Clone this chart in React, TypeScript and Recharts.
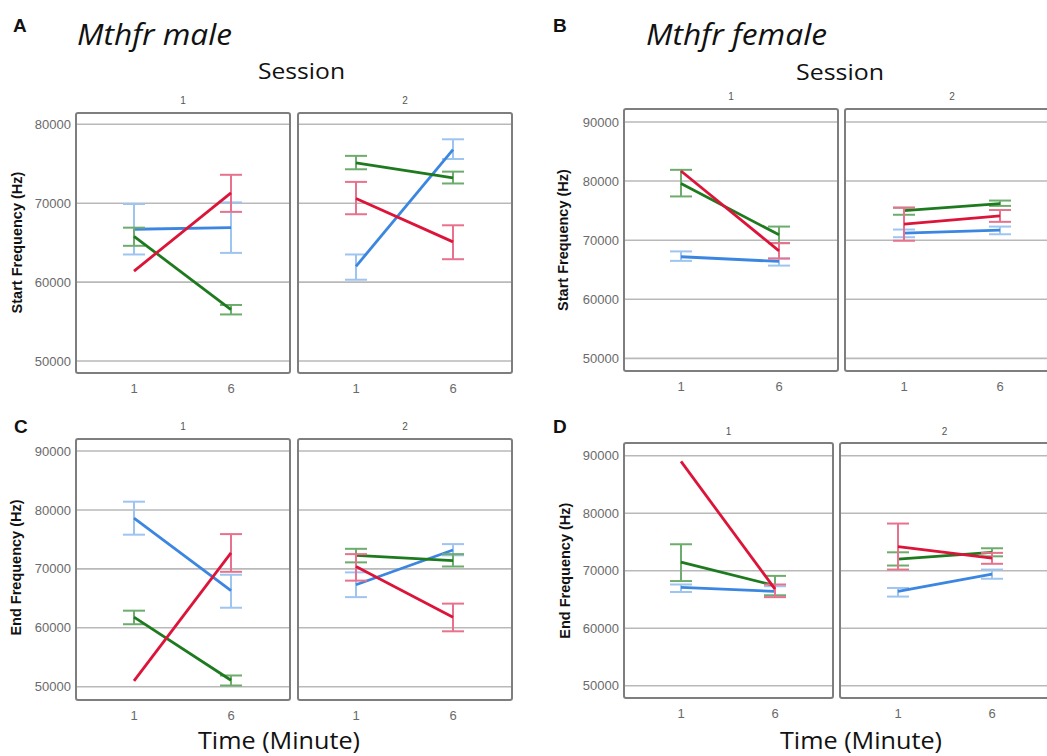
import React from "react";
import { LineChart, Line, XAxis, YAxis, CartesianGrid, ErrorBar } from "recharts";

// ---------- data ----------
const timeLabels = ["1", "6"];
const seriesNames = ["blue", "red", "green"];

// Panel A: Mthfr male, Start Frequency (Hz)   rows: blue, red, green
const maleStartS1Mean = [[66700, 66900], [61400, 71300], [65800, 56500]];
const maleStartS1Low = [[63500, 63700], [null, 68900], [64600, 55900]];
const maleStartS1High = [[69900, 70100], [null, 73600], [66900, 57100]];
const maleStartS2Mean = [[62000, 76800], [70600, 65100], [75100, 73200]];
const maleStartS2Low = [[60300, 75600], [68600, 62900], [74300, 72500]];
const maleStartS2High = [[63500, 78100], [72700, 67200], [76000, 74000]];

// Panel B: Mthfr female, Start Frequency (Hz)
const femaleStartS1Mean = [[67200, 66400], [81700, 68200], [79600, 70900]];
const femaleStartS1Low = [[66500, 65700], [null, 66900], [77400, 69500]];
const femaleStartS1High = [[68100, 66900], [null, 69500], [81900, 72300]];
const femaleStartS2Mean = [[71200, 71700], [72700, 74100], [75000, 76200]];
const femaleStartS2Low = [[70500, 71000], [69900, 73100], [74300, 75800]];
const femaleStartS2High = [[71800, 72300], [75500, 75100], [75500, 76700]];

// Panel C: Mthfr male, End Frequency (Hz)
const maleEndS1Mean = [[78600, 66300], [51000, 72700], [61800, 51100]];
const maleEndS1Low = [[75800, 63400], [null, 69500], [60600, 50200]];
const maleEndS1High = [[81400, 69000], [null, 75900], [62900, 51900]];
const maleEndS2Mean = [[67300, 73200], [70400, 61800], [72300, 71400]];
const maleEndS2Low = [[65200, 72300], [68000, 59400], [71100, 70400]];
const maleEndS2High = [[69400, 74200], [72500, 64100], [73400, 72500]];

// Panel D: Mthfr female, End Frequency (Hz)
const femaleEndS1Mean = [[67100, 66400], [89000, 66800], [71500, 67400]];
const femaleEndS1Low = [[66300, 65700], [null, 65400], [68200, 65700]];
const femaleEndS1High = [[67600, 67300], [null, 67600], [74600, 69100]];
const femaleEndS2Mean = [[66400, 69400], [74200, 72200], [72000, 73200]];
const femaleEndS2Low = [[65500, 68600], [70200, 71200], [70900, 72500]];
const femaleEndS2High = [[67000, 70200], [78200, 73100], [73200, 73900]];

const maleStartTicks = [50000, 60000, 70000, 80000];
const otherTicks = [50000, 60000, 70000, 80000, 90000];

// ---------- styles ----------
const lineColors: Record<string, string> = { blue: "#3b86e0", red: "#dc1439", green: "#1e7a1e" };
const errColors: Record<string, string> = { blue: "#9ec4f0", red: "#e8728d", green: "#6dac6d" };
const drawOrder = [0, 2, 1];

function buildRows(mean: (number | null)[][], low: (number | null)[][], high: (number | null)[][]) {
  return timeLabels.map((t, i) => {
    const row: any = { time: t };
    seriesNames.forEach((s, k) => {
      const m = mean[k][i] as number;
      row[s] = m;
      const lo = low[k][i];
      const hi = high[k][i];
      row[s + "Err"] = lo == null || hi == null ? null : [m - lo, hi - m];
    });
    return row;
  });
}

type Facet = {
  x: number; y: number; w: number; h: number;
  domain: [number, number]; ticks: number[];
  padL: number; padR: number; showY: boolean;
  mean: any; low: any; high: any;
};

const YW = 60;
const XH = 30;

function FacetChart({ f }: { f: Facet }) {
  const rows = buildRows(f.mean, f.low, f.high);
  const left = f.showY ? f.x - YW : f.x;
  const width = f.showY ? f.w + YW : f.w;
  return (
    <>
      <div style={{ position: "absolute", left, top: f.y }}>
        <LineChart width={width} height={f.h + XH} data={rows} margin={{ top: 0, right: 0, bottom: 0, left: 0 }}>
          <CartesianGrid vertical={false} stroke="#b9b9b9" strokeWidth={1.6} horizontalValues={f.ticks} />
          <XAxis
            dataKey="time"
            type="category"
            height={XH}
            padding={{ left: f.padL, right: f.padR }}
            axisLine={false}
            tickLine={false}
            tickSize={0}
            tickMargin={10}
            tick={{ fontSize: 13, fill: "#6a6a6a", fontFamily: "Liberation Sans, Arial, sans-serif" }}
          />
          <YAxis
            type="number"
            domain={f.domain}
            allowDataOverflow
            ticks={f.ticks}
            hide={!f.showY}
            width={YW}
            axisLine={false}
            tickLine={false}
            tickSize={0}
            tickMargin={4}
            tick={{ fontSize: 13, fill: "#6a6a6a", fontFamily: "Liberation Sans, Arial, sans-serif" }}
          />
          {drawOrder.map((k) => {
            const s = seriesNames[k];
            return (
              <Line
                key={s}
                dataKey={s}
                stroke={lineColors[s]}
                strokeWidth={2.8}
                dot={false}
                activeDot={false}
                isAnimationActive={false}
              >
                <ErrorBar
                  dataKey={s + "Err"}
                  direction="y"
                  width={11}
                  stroke={errColors[s]}
                  strokeWidth={2}
                  isAnimationActive={false}
                />
              </Line>
            );
          })}
        </LineChart>
      </div>
      <div
        style={{
          position: "absolute",
          left: f.x,
          top: f.y,
          width: f.w,
          height: f.h,
          border: "2px solid #7e7e7e",
          borderRadius: 3,
          boxSizing: "border-box",
          pointerEvents: "none",
        }}
      />
    </>
  );
}

const facets: Facet[] = [
  { x: 75, y: 112, w: 216, h: 262, domain: [48350, 81560], ticks: maleStartTicks, padL: 59, padR: 60, showY: true, mean: maleStartS1Mean, low: maleStartS1Low, high: maleStartS1High },
  { x: 297, y: 112, w: 216, h: 262, domain: [48350, 81560], ticks: maleStartTicks, padL: 59, padR: 60, showY: false, mean: maleStartS2Mean, low: maleStartS2Low, high: maleStartS2High },
  { x: 623, y: 108, w: 216, h: 264, domain: [47700, 92360], ticks: otherTicks, padL: 58, padR: 60, showY: true, mean: femaleStartS1Mean, low: femaleStartS1Low, high: femaleStartS1High },
  { x: 844, y: 108, w: 216, h: 264, domain: [47700, 92360], ticks: otherTicks, padL: 60, padR: 60, showY: false, mean: femaleStartS2Mean, low: femaleStartS2Low, high: femaleStartS2High },
  { x: 75, y: 438, w: 216, h: 263, domain: [47570, 92210], ticks: otherTicks, padL: 59, padR: 60, showY: true, mean: maleEndS1Mean, low: maleEndS1Low, high: maleEndS1High },
  { x: 297, y: 438, w: 216, h: 263, domain: [47570, 92210], ticks: otherTicks, padL: 59, padR: 60, showY: false, mean: maleEndS2Mean, low: maleEndS2Low, high: maleEndS2High },
  { x: 623, y: 442, w: 211, h: 257, domain: [47690, 92380], ticks: otherTicks, padL: 58, padR: 59, showY: true, mean: femaleEndS1Mean, low: femaleEndS1Low, high: femaleEndS1High },
  { x: 839, y: 442, w: 211, h: 257, domain: [47690, 92380], ticks: otherTicks, padL: 59, padR: 58, showY: false, mean: femaleEndS2Mean, low: femaleEndS2Low, high: femaleEndS2High },
];

const SANS = "Liberation Sans, Arial, sans-serif";
const HUMAN = "Open Sans, Noto Sans, sans-serif";

export default function App() {
  return (
    <div style={{ position: "fixed", left: 0, top: 0, width: 1047, height: 756, overflow: "hidden", background: "#fff" }}>
      {facets.map((f, i) => (
        <FacetChart key={i} f={f} />
      ))}
      <svg width={1047} height={756} style={{ position: "absolute", left: 0, top: 0, pointerEvents: "none" }}>
        {/* panel letters */}
        <g fontFamily={SANS} fontWeight="bold" fontSize={19} fill="#111">
          <text x={13} y={32}>A</text>
          <text x={553} y={32}>B</text>
          <text x={14} y={433}>C</text>
          <text x={553} y={433}>D</text>
        </g>
        {/* titles */}
        <g fontFamily={HUMAN} fontStyle="italic" fontSize={29} fill="#111">
          <text x={77} y={45} textLength={155} lengthAdjust="spacingAndGlyphs">Mthfr male</text>
          <text x={646} y={45} textLength={181} lengthAdjust="spacingAndGlyphs">Mthfr female</text>
        </g>
        <g fontFamily={HUMAN} fontSize={22} fill="#111">
          <text x={258} y={79} textLength={87} lengthAdjust="spacingAndGlyphs">Session</text>
          <text x={796} y={80} textLength={88} lengthAdjust="spacingAndGlyphs">Session</text>
        </g>
        {/* facet headers */}
        <g fontFamily={SANS} fontSize={10} fill="#555" textAnchor="middle">
          <text x={183} y={104}>1</text>
          <text x={405} y={104}>2</text>
          <text x={731} y={100}>1</text>
          <text x={952} y={100}>2</text>
          <text x={183} y={430}>1</text>
          <text x={405} y={430}>2</text>
          <text x={728.5} y={435}>1</text>
          <text x={944.5} y={435}>2</text>
        </g>
        {/* y-axis titles */}
        <g fontFamily={SANS} fontWeight="bold" fontSize={14.5} fill="#111" textAnchor="middle">
          <text transform="translate(22,242.5) rotate(-90)">Start Frequency (Hz)</text>
          <text transform="translate(567.5,240) rotate(-90)">Start Frequency (Hz)</text>
          <text transform="translate(20.5,567.5) rotate(-90)">End Frequency (Hz)</text>
          <text transform="translate(570,570.7) rotate(-90)">End Frequency (Hz)</text>
        </g>
        {/* x-axis titles */}
        <g fontFamily={HUMAN} fontSize={23} fill="#111">
          <text x={198} y={749} textLength={162} lengthAdjust="spacingAndGlyphs">Time (Minute)</text>
          <text x={780} y={749} textLength={162} lengthAdjust="spacingAndGlyphs">Time (Minute)</text>
        </g>
      </svg>
    </div>
  );
}
